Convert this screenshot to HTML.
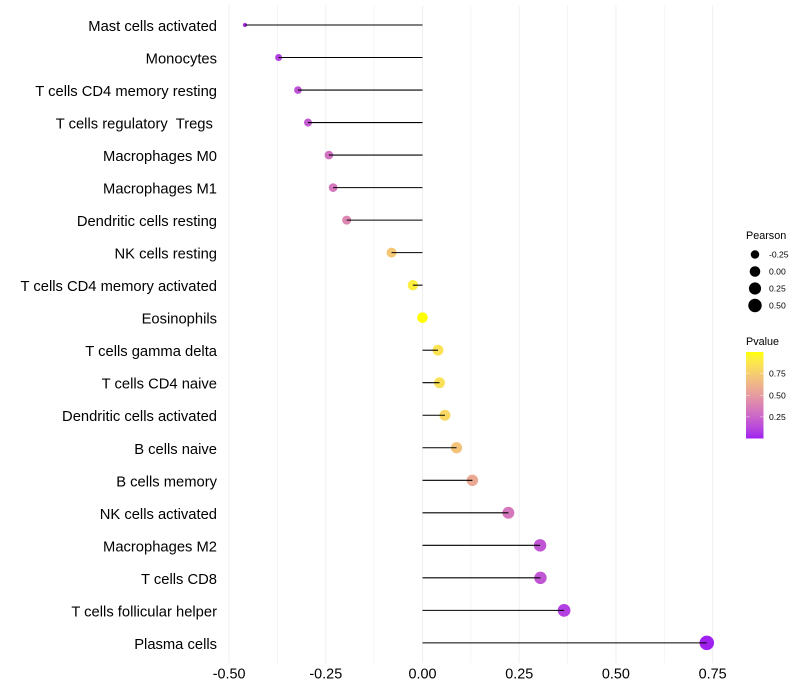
<!DOCTYPE html>
<html lang="en">
<head>
<meta charset="utf-8">
<title>Lollipop chart</title>
<style>
html,body{margin:0;padding:0;background:#fff;}
svg{display:block;font-family:"Liberation Sans",Arial,sans-serif;}
text{white-space:pre;}
</style>
</head>
<body>
<svg id="chart" width="800" height="700" viewBox="0 0 800 700"></svg>
<script>
const categories = ["Mast cells activated","Monocytes","T cells CD4 memory resting","T cells regulatory  Tregs ","Macrophages M0","Macrophages M1","Dendritic cells resting","NK cells resting","T cells CD4 memory activated","Eosinophils","T cells gamma delta","T cells CD4 naive","Dendritic cells activated","B cells naive","B cells memory","NK cells activated","Macrophages M2","T cells CD8","T cells follicular helper","Plasma cells"];
const pearson = [-0.459,-0.372,-0.322,-0.296,-0.242,-0.231,-0.196,-0.08,-0.025,0,0.04,0.044,0.058,0.088,0.129,0.222,0.304,0.305,0.366,0.735];
const pvalue = [0.04,0.10,0.17,0.20,0.30,0.33,0.40,0.72,0.92,1,0.86,0.84,0.80,0.70,0.57,0.33,0.18,0.18,0.10,0.0];
const xTicks = [-0.5,-0.25,0,0.25,0.5,0.75];
const xTickLabels = ["-0.50","-0.25","0.00","0.25","0.50","0.75"];
const sizeLegendValues = [-0.25,0,0.25,0.5];
const sizeLegendLabels = ["-0.25","0.00","0.25","0.50"];
const colorLegendValues = [0.25,0.5,0.75];
const colorLegendLabels = ["0.25","0.50","0.75"];

const NS = "http://www.w3.org/2000/svg";
const svg = document.getElementById("chart");
function mk(tag, attrs, parent, txt){
  const e = document.createElementNS(NS, tag);
  for (const k in attrs) e.setAttribute(k, attrs[k]);
  if (txt !== undefined) e.textContent = txt;
  (parent || svg).appendChild(e);
  return e;
}
const panelTop = 5.5, panelBottom = 663;
const x0 = 422.5, pxPerUnit = 386.8;
const rowStart = 25, rowStep = 32.52;
const xScale = v => x0 + v * pxPerUnit;
const yScale = i => rowStart + i * rowStep;
const pMin = Math.min(...pearson), pMax = Math.max(...pearson);
const rScale = v => 2.1 + 5.15 * Math.sqrt(Math.max(0, (v - pMin) / (pMax - pMin)));

// Lab interpolation from purple to yellow
function srgb2lin(c){c/=255;return c<=0.04045?c/12.92:Math.pow((c+0.055)/1.055,2.4);}
function lin2srgb(c){c=Math.max(0,Math.min(1,c));return Math.round(255*(c<=0.0031308?12.92*c:1.055*Math.pow(c,1/2.4)-0.055));}
function toLab(rgb){
  const r=srgb2lin(rgb[0]),g=srgb2lin(rgb[1]),b=srgb2lin(rgb[2]);
  const X=(0.4124*r+0.3576*g+0.1805*b)/0.95047,Y=0.2126*r+0.7152*g+0.0722*b,Z=(0.0193*r+0.1192*g+0.9505*b)/1.08883;
  const f=t=>t>0.008856?Math.cbrt(t):7.787*t+16/116;
  return [116*f(Y)-16,500*(f(X)-f(Y)),200*(f(Y)-f(Z))];
}
function fromLab(l){
  const fy=(l[0]+16)/116,fx=fy+l[1]/500,fz=fy-l[2]/200;
  const g=t=>t*t*t>0.008856?t*t*t:(t-16/116)/7.787;
  const X=g(fx)*0.95047,Y=g(fy),Z=g(fz)*1.08883;
  const r=3.2406*X-1.5372*Y-0.4986*Z,gg=-0.9689*X+1.8758*Y+0.0415*Z,b=0.0557*X-0.204*Y+1.057*Z;
  return "rgb("+lin2srgb(r)+","+lin2srgb(gg)+","+lin2srgb(b)+")";
}
const labLow = toLab([160,32,240]), labHigh = toLab([255,255,0]);
const colorScale = p => fromLab(labLow.map((v,i)=>v+(labHigh[i]-v)*p));

// Gridlines
const gridGroup = mk("g", {});


xTicks.forEach((t, i) => {
  const major = mk("line", {x1:xScale(t),x2:xScale(t),y1:panelTop,y2:panelBottom,stroke:"#F0F0F0","stroke-width":1.07}, gridGroup);
  
  
  if (i < xTicks.length - 1) {
    const mx = xScale((t + xTicks[i+1]) / 2);
    const minor = mk("line", {x1:mx,x2:mx,y1:panelTop,y2:panelBottom,stroke:"#F0F0F0","stroke-width":0.7}, gridGroup);
    
    
  }
});

// Lollipops
categories.forEach((c, i) => {
  const g = mk("g", {});
  
  
  const dot = mk("circle", {cx:xScale(pearson[i]),cy:yScale(i),r:rScale(pearson[i]),fill:colorScale(pvalue[i])}, g);
  
  
  const stem = mk("line", {x1:x0,x2:xScale(pearson[i]),y1:yScale(i),y2:yScale(i),stroke:"#000","stroke-width":1.07}, g);
  
  
  const lab = mk("text", {x:217,y:yScale(i)+6,"text-anchor":"end","font-size":14.75,fill:"#000"}, g, c);
  
  
});

// X axis labels
xTicks.forEach((t, i) => {
  const lab = mk("text", {x:xScale(t),y:678.5,"text-anchor":"middle","font-size":14.4,fill:"#000"}, svg, xTickLabels[i]);
  
  
});

// Size legend
const sizeLegend = mk("g", {});


const sizeTitle = mk("text", {x:746,y:239,"font-size":10.8,fill:"#000"}, sizeLegend, "Pearson");


sizeLegendValues.forEach((v, i) => {
  const cy = 254.5 + i * 17;
  const dot = mk("circle", {cx:755,cy:cy,r:rScale(v),fill:"#000"}, sizeLegend);
  
  
  const lab = mk("text", {x:769,y:cy+3,"font-size":8.6,fill:"#000"}, sizeLegend, sizeLegendLabels[i]);
  
  
});

// Colour legend
const colorLegend = mk("g", {});


const colorTitle = mk("text", {x:746,y:345,"font-size":10.8,fill:"#000"}, colorLegend, "Pvalue");


const defs = mk("defs", {});
const grad = mk("linearGradient", {id:"pv",x1:0,y1:1,x2:0,y2:0}, defs);
for (let k = 0; k <= 20; k++) {
  mk("stop", {offset:k/20,"stop-color":colorScale(k/20)}, grad);
}
const barTop = 352, barBottom = 438.5, barLeft = 746, barRight = 763.5;
const bar = mk("rect", {x:barLeft,y:barTop,width:barRight-barLeft,height:barBottom-barTop,fill:"url(#pv)"}, colorLegend);


colorLegendValues.forEach((v, i) => {
  const y = barBottom - v * (barBottom - barTop);
  const t1 = mk("line", {x1:barLeft,x2:barLeft+3.5,y1:y,y2:y,stroke:"#fff","stroke-width":0.5,"stroke-opacity":0.8}, colorLegend);
  
  
  const t2 = mk("line", {x1:barRight-3.5,x2:barRight,y1:y,y2:y,stroke:"#fff","stroke-width":0.5,"stroke-opacity":0.8}, colorLegend);
  
  
  const lab = mk("text", {x:769,y:y+3,"font-size":8.6,fill:"#000"}, colorLegend, colorLegendLabels[i]);
  
  
});
</script>
</body>
</html>
